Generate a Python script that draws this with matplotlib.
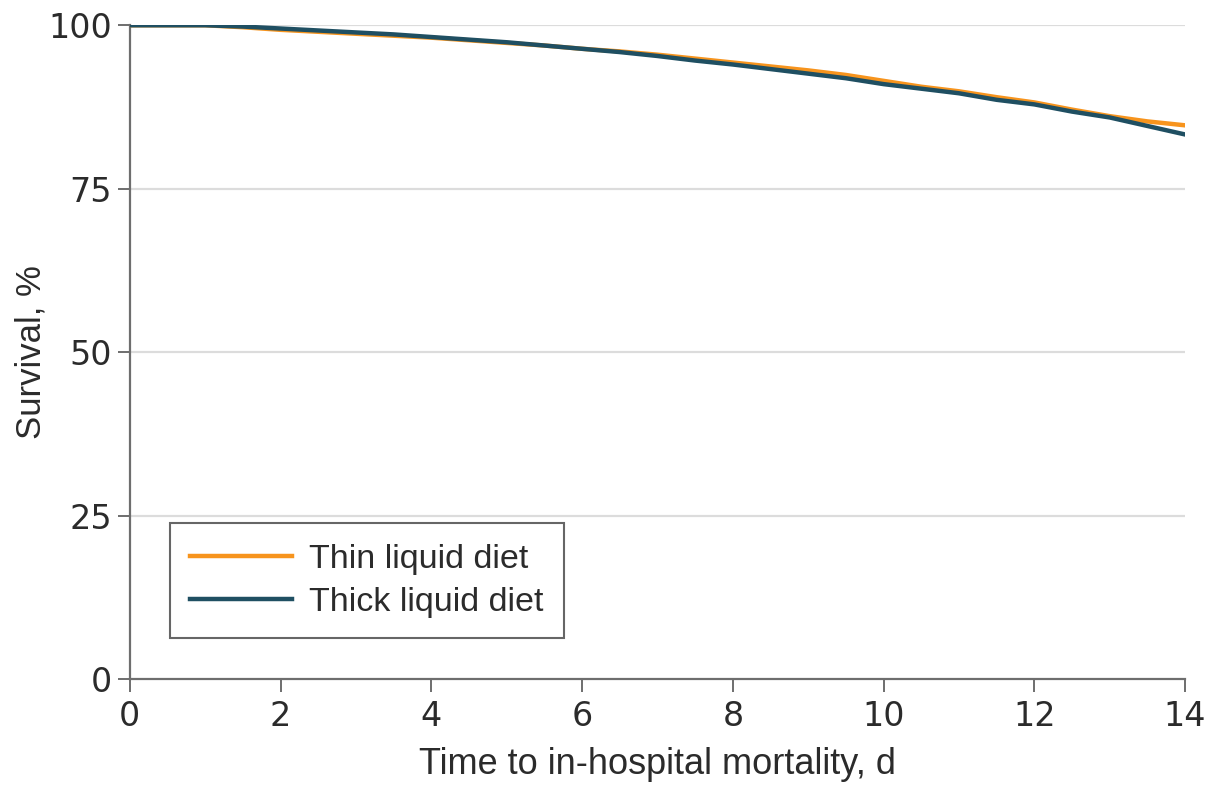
import matplotlib
matplotlib.use("Agg")
import matplotlib.pyplot as plt

days = [0, 0.5, 1.0, 1.5, 2.0, 2.5, 3.0, 3.5, 4.0, 4.5, 5.0, 5.5, 6.0, 6.5, 7.0,
        7.5, 8.0, 8.5, 9.0, 9.5, 10.0, 10.5, 11.0, 11.5, 12.0, 12.5, 13.0, 13.5, 14.0]
thin_survival = [100, 100, 100, 99.7, 99.3, 99.0, 98.7, 98.4, 98.1, 97.7, 97.3, 96.9, 96.4,
                 96.0, 95.5, 94.9, 94.3, 93.7, 93.1, 92.4, 91.5, 90.6, 89.9, 89.0, 88.2,
                 87.1, 86.1, 85.3, 84.7]
thick_survival = [100, 100, 100, 99.8, 99.5, 99.2, 98.9, 98.6, 98.2, 97.8, 97.4, 96.9, 96.4,
                  95.9, 95.3, 94.6, 94.0, 93.3, 92.6, 91.9, 91.0, 90.3, 89.6, 88.6, 87.9,
                  86.8, 85.9, 84.6, 83.3]
x_ticks = [0, 2, 4, 6, 8, 10, 12, 14]
y_ticks = [0, 25, 50, 75, 100]
series_labels = ["Thin liquid diet", "Thick liquid diet"]

ORANGE = "#F7941D"
DARK = "#1F4F62"
TEXT = "#2b2b2b"
SPINE = "#6e6e6e"
LABEL_FONT = ["Liberation Sans", "DejaVu Sans"]

fig = plt.figure(figsize=(12.13, 7.89), dpi=100)
ax = fig.add_axes([0.107, 0.139, 0.870, 0.829])

for y in [25, 50, 75, 100]:
    ax.axhline(y, color="#dcdcdc", lw=1.6, zorder=0)

ax.plot(days, thin_survival, color=ORANGE, lw=3.2, label=series_labels[0], zorder=3)
ax.plot(days, thick_survival, color=DARK, lw=3.2, label=series_labels[1], zorder=4)

ax.set_xlim(0, 14)
ax.set_ylim(0, 100)
ax.set_xticks(x_ticks)
ax.set_yticks(y_ticks)
ax.set_xticklabels([str(t) for t in x_ticks])
ax.set_yticklabels([str(t) for t in y_ticks])

for side in ["top", "right"]:
    ax.spines[side].set_visible(False)
for side in ["left", "bottom"]:
    ax.spines[side].set_color(SPINE)
    ax.spines[side].set_linewidth(1.6)

ax.tick_params(axis="both", direction="out", length=9, width=1.4, color=SPINE,
               labelcolor=TEXT, labelsize=24)
ax.tick_params(axis="y", pad=4)
ax.tick_params(axis="x", pad=6)
for lab in ax.get_xticklabels() + ax.get_yticklabels():
    lab.set_family("DejaVu Sans")

ax.set_xlabel("Time to in-hospital mortality, d", fontsize=26, color=TEXT,
              family=LABEL_FONT, labelpad=10)
ax.set_ylabel("Survival, %", fontsize=25, color=TEXT, family=LABEL_FONT)
ax.yaxis.set_label_coords(-0.078, 0.5)

leg = ax.legend(loc="lower left", bbox_to_anchor=(0.038, 0.063), frameon=True,
                fancybox=False, edgecolor="#666666", framealpha=1,
                prop={"family": LABEL_FONT, "size": 24.5}, handlelength=3.0,
                handletextpad=0.5, borderpad=0.6, labelspacing=0.35,
                borderaxespad=0)
leg.get_frame().set_linewidth(1.5)
for t in leg.get_texts():
    t.set_color(TEXT)
for h in leg.get_lines():
    h.set_linewidth(3.2)

fig.savefig("out.png", dpi=100)
